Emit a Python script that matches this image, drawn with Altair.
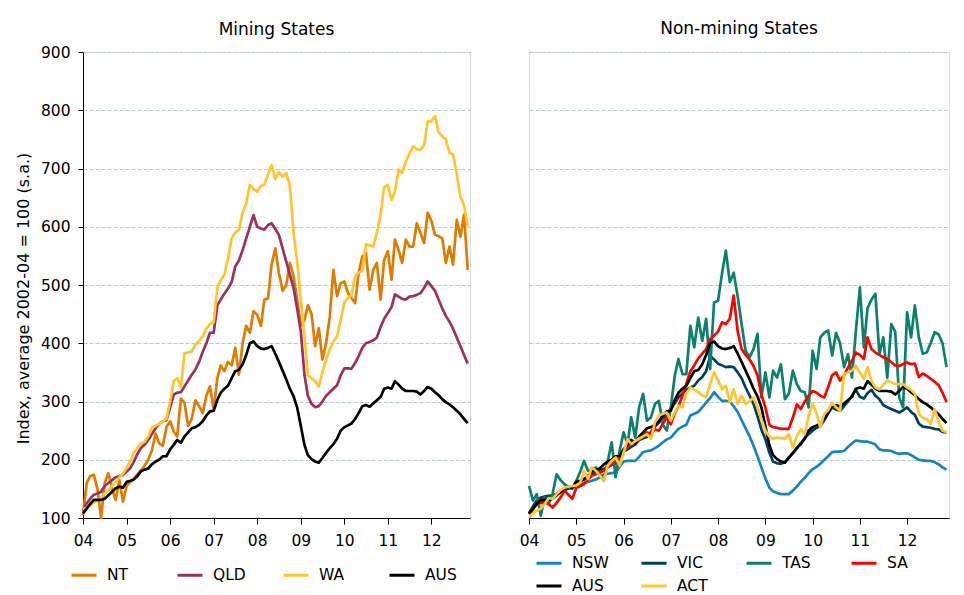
import altair as alt
import pandas as pd

# ---------------- data ----------------
months = pd.date_range("2004-01-01", periods=107, freq="MS").strftime("%Y-%m-%dT00:00:00").tolist()
year_ticks = list(range(2004, 2013))
y_ticks = [100, 200, 300, 400, 500, 600, 700, 800, 900]

mining_states = ["NT", "QLD", "WA", "AUS"]
mining_colors = ["#E07B00", "#9B3060", "#FFC52F", "#000000"]
nonmining_states = ["NSW", "VIC", "TAS", "SA", "AUS", "ACT"]
nonmining_colors = ["#1385C6", "#003F62", "#0A806E", "#FF0000", "#000000", "#FFC52F"]

NT = [105, 160, 172, 174, 150, 100, 160, 177, 150, 131,
      165, 128, 155, 162, 166, 175, 182, 190, 200, 216,
      245, 228, 224, 256, 266, 248, 240, 305, 298, 258,
      270, 302, 292, 280, 310, 326, 286, 340, 362, 352,
      368, 362, 392, 346, 400, 430, 418, 455, 449, 430,
      475, 477, 535, 563, 521, 490, 500, 538, 515, 475,
      430, 440, 465, 450, 395, 426, 372, 400, 446, 526,
      481, 503, 506, 486, 478, 469, 521, 549, 555, 492,
      526, 538, 475, 543, 558, 509, 578, 560, 538, 578,
      566, 566, 606, 590, 572, 624, 610, 586, 584, 580,
      538, 566, 535, 612, 583, 621, 526]

QLD = [114, 125, 133, 140, 142, 145, 155, 160, 165, 170,
       172, 174, 180, 186, 196, 210, 220, 226, 234, 244,
       254, 262, 266, 268, 290, 312, 315, 316, 326, 336,
       346, 355, 368, 385, 400, 418, 418, 465, 475, 485,
       494, 505, 532, 542, 560, 580, 600, 620, 600, 597,
       595, 603, 606, 596, 586, 563, 540, 518, 495, 460,
       420, 345, 310, 296, 290, 292, 300, 310, 316, 322,
       328, 345, 357, 357, 356, 366, 378, 392, 400, 402,
       405, 410, 428, 442, 452, 462, 484, 480, 476, 475,
       480, 481, 483, 486, 495, 506, 498, 490, 475, 460,
       447, 437, 425, 410, 395, 380, 365]

WA = [115, 118, 122, 126, 130, 135, 142, 148, 155, 162,
      170, 176, 186, 198, 212, 220, 228, 231, 240, 255,
      258, 262, 266, 270, 300, 335, 340, 325, 383, 384,
      386, 398, 404, 412, 425, 433, 436, 495, 508, 518,
      545, 580, 590, 595, 625, 640, 672, 665, 660, 670,
      672, 690, 706, 682, 694, 686, 692, 670, 590, 540,
      476, 410, 345, 340, 335, 326, 350, 372, 390, 402,
      412, 440, 469, 478, 482, 515, 521, 524, 570, 568,
      566, 590, 620, 668, 672, 646, 660, 698, 692, 712,
      725, 738, 733, 732, 740, 781, 781, 790, 762, 755,
      750, 727, 724, 690, 652, 637, 600]

AUS = [108, 116, 124, 131, 131, 131, 133, 139, 145, 151,
       154, 152, 162, 164, 166, 172, 180, 183, 185, 192,
       197, 200, 206, 206, 218, 226, 234, 229, 240, 247,
       254, 256, 260, 266, 276, 283, 284, 303, 315, 322,
       327, 340, 352, 354, 364, 380, 400, 403, 395, 391,
       390, 392, 395, 382, 368, 353, 338, 322, 309, 290,
       258, 225, 208, 201, 197, 195, 203, 212, 220, 227,
       236, 250, 256, 259, 262, 270, 280, 292, 294, 291,
       297, 302, 308, 322, 324, 322, 335, 329, 322, 318,
       318, 318, 317, 312, 318, 325, 322, 316, 311, 304,
       299, 295, 290, 284, 278, 270, 263]

NSW = [107, 115, 124, 128, 132, 135, 138, 141, 144, 147,
       150, 152, 155, 157, 160, 162, 164, 166, 170, 175,
       176, 177, 178, 188, 197, 198, 198, 198, 205, 213,
       215, 216, 220, 224, 230, 235, 238, 246, 253, 257,
       260, 276, 279, 282, 290, 298, 306, 316, 308, 301,
       301, 300, 292, 282, 268, 254, 240, 224, 206, 187,
       168, 152, 146, 143, 141, 141, 141, 147, 154, 162,
       169, 177, 184, 188, 193, 200, 206, 213, 214, 214,
       215, 222, 228, 233, 232, 231, 231, 229, 226, 218,
       216, 216, 215, 212, 210, 211, 211, 208, 204, 200,
       199, 198, 198, 196, 192, 187, 183]

VIC = [108, 120, 130, 135, 137, 138, 139, 141, 145, 148,
       151, 153, 157, 162, 167, 172, 176, 178, 181, 184,
       188, 191, 193, 202, 214, 218, 222, 226, 234, 237,
       239, 248, 257, 264, 271, 278, 288, 297, 307, 314,
       320, 324, 327, 336, 342, 352, 378, 372, 365, 362,
       359, 360, 359, 350, 340, 324, 310, 296, 275, 252,
       235, 212, 197, 194, 193, 196, 204, 211, 220, 228,
       237, 244, 250, 255, 258, 268, 280, 290, 286, 284,
       292, 300, 310, 320, 308, 305, 314, 320, 310, 304,
       294, 290, 287, 284, 281, 285, 290, 282, 277, 262,
       257, 256, 255, 253, 252, 248, 247]

TAS = [155, 130, 141, 104, 135, 124, 141, 175, 165, 158,
       153, 150, 164, 180, 198, 181, 181, 187, 175, 164,
       198, 230, 170, 215, 247, 227, 273, 238, 290, 313,
       267, 273, 296, 301, 260, 250, 290, 345, 373, 347,
       347, 430, 393, 444, 404, 442, 356, 470, 473, 520,
       559, 505, 521, 480, 433, 387, 376, 390, 416, 307,
       350, 307, 353, 341, 364, 304, 313, 353, 330, 318,
       316, 290, 387, 356, 410, 418, 422, 379, 418, 400,
       359, 381, 341, 420, 496, 393, 460, 475, 485, 381,
       410, 341, 433, 420, 307, 290, 453, 410, 465, 410,
       382, 384, 400, 419, 415, 400, 359]

SA = [107, 116, 124, 126, 127, 124, 118, 126, 135, 147,
      140, 133, 152, 155, 158, 166, 173, 175, 178, 181,
      187, 192, 198, 204, 214, 222, 227, 231, 236, 242,
      247, 244, 252, 250, 262, 273, 261, 280, 292, 310,
      330, 352, 362, 374, 382, 390, 407, 413, 420, 436,
      433, 442, 482, 420, 390, 380, 372, 361, 345, 312,
      290, 260, 256, 255, 253, 253, 253, 272, 295, 287,
      300, 310, 318, 315, 310, 307, 325, 345, 350, 336,
      345, 358, 370, 384, 380, 373, 410, 390, 384, 380,
      376, 373, 368, 362, 361, 364, 367, 364, 365, 342,
      348, 344, 339, 334, 328, 315, 299]

ACT = [101, 108, 113, 116, 124, 134, 133, 141, 148, 152,
       154, 155, 156, 161, 181, 167, 187, 181, 173, 164,
       190, 198, 204, 190, 212, 235, 227, 232, 236, 240,
       244, 236, 265, 276, 279, 281, 267, 282, 293, 290,
       313, 324, 320, 316, 311, 307, 330, 350, 336, 321,
       327, 299, 321, 296, 310, 296, 300, 307, 290, 270,
       250, 240, 236, 238, 237, 236, 244, 221, 240, 252,
       244, 275, 296, 279, 256, 279, 285, 298, 290, 284,
       347, 350, 353, 361, 350, 339, 359, 335, 324, 321,
       328, 336, 333, 330, 330, 330, 324, 320, 313, 279,
       272, 270, 261, 287, 265, 250, 247]

series = {"NT": NT, "QLD": QLD, "WA": WA, "AUS": AUS, "NSW": NSW,
          "VIC": VIC, "TAS": TAS, "SA": SA, "ACT": ACT}


def frame(names):
    rows = []
    for n in names:
        for d, v in zip(months, series[n]):
            rows.append({"date": d, "state": n, "value": v})
    return pd.DataFrame(rows)


FONT = "DejaVu Sans"
GRID = "#B7C8CD"
LABEL_SIZE = 15.5

x_dom = [alt.DateTime(year=2004, month=1, date=1), alt.DateTime(year=2012, month=11, date=20)]
x_vals = [alt.DateTime(year=y, month=1, date=1) for y in year_ticks]


def x_enc():
    return alt.X("date:T",
                 scale=alt.Scale(domain=x_dom, nice=False),
                 axis=alt.Axis(values=x_vals, format="%y", title=None, grid=False,
                               tickSize=6, labelPadding=9, domainColor="black",
                               tickColor="black", labelColor="black",
                               labelFontSize=LABEL_SIZE, labelFont=FONT, labelFlush=False))


def panel(names, colors, title, width, legend_x, legend_y, col_pad, title_offset, left_axis):
    df = frame(names)
    if left_axis:
        yaxis = alt.Axis(values=y_ticks, title="Index, average 2002-04 = 100 (s.a.)",
                         tickSize=5, labelPadding=8, domainColor="black", tickColor="black",
                         labelColor="black", titleColor="black", labelFontSize=LABEL_SIZE,
                         titleFontSize=16, titleFontWeight="normal", labelFont=FONT,
                         titleFont=FONT, grid=True, gridColor=GRID, gridDash=[4, 2],
                         titlePadding=9, titleY=246)
    else:
        yaxis = alt.Axis(values=y_ticks, title=None, labels=False, ticks=False,
                         domain=False, grid=True, gridColor=GRID, gridDash=[4, 2])
    legend = alt.Legend(orient="none", legendX=legend_x, legendY=legend_y, columns=4,
                        direction="horizontal", title=None, symbolType="stroke",
                        symbolSize=625, symbolStrokeWidth=3, labelFontSize=15.5,
                        labelFont=FONT, labelColor="black", labelOffset=9,
                        columnPadding=col_pad, rowPadding=-7, gridAlign="all", padding=0)
    layers = []
    for n in names:
        layers.append(
            alt.Chart(df).transform_filter(alt.datum.state == n).mark_line(
                strokeWidth=2.7, strokeJoin="round").encode(
                x=x_enc(),
                y=alt.Y("value:Q", scale=alt.Scale(domain=[100, 900], nice=False, zero=False),
                        axis=yaxis),
                color=alt.Color("state:N", scale=alt.Scale(domain=names, range=colors),
                                legend=legend),
            )
        )
    return alt.layer(*layers).properties(
        width=width, height=466,
        title=alt.TitleParams(title, fontSize=17, fontWeight="normal", font=FONT,
                              color="black", anchor="middle", offset=title_offset,
                              frame="group"),
    )


left = panel(mining_states, mining_colors, "Mining States", 387, -13, 509, 31, 6, True)
right = panel(nonmining_states, nonmining_colors, "Non-mining States", 420, 6, 497, 26, 14, False)

chart = alt.hconcat(left, right, spacing=59, bounds="flush").resolve_scale(
    color="independent").resolve_legend(color="independent").properties(
    padding={"left": 6, "top": 11, "right": 5, "bottom": 5}
).configure_view(stroke=None).configure(font=FONT)

chart.save("out.html", embed_options={"renderer": "svg", "actions": False})
